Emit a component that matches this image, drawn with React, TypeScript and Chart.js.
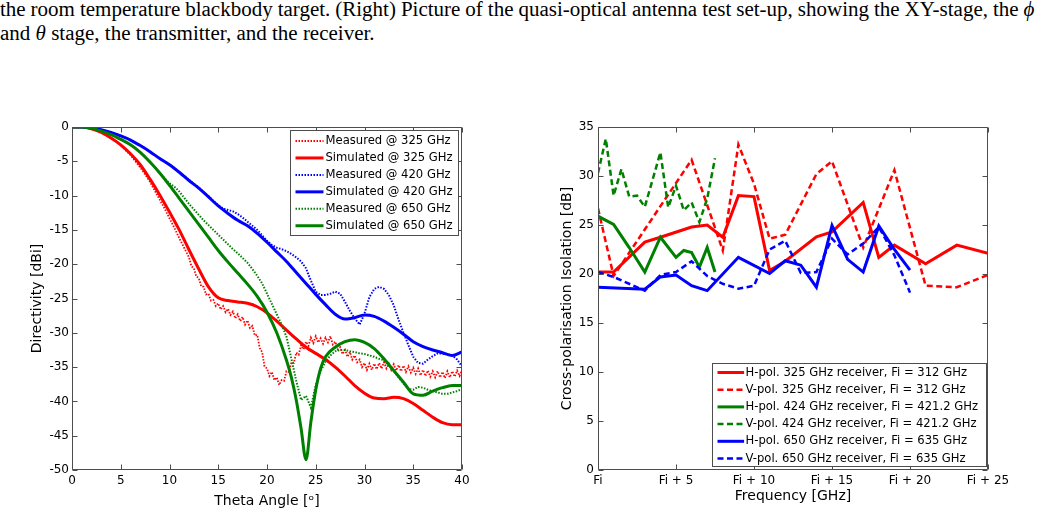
import React, { useEffect, useLayoutEffect, useRef, useState } from 'react';
import { Chart, registerables } from 'chart.js';

Chart.register(...registerables);

const FONT = '"DejaVu Sans", "Liberation Sans", Arial, sans-serif';
const AXIS = '#4d4d4d';
const RED = '#ff0000';
const GREEN = '#008000';
const BLUE = '#0000ff';

// ---- Left panel: directivity versus theta angle ----
const thetaSim = [
  0, 1, 2, 3, 4, 5, 6, 7, 8, 9, 10, 11, 12, 13, 14, 15, 16, 17, 18, 19, 20,
  21, 22, 23, 24, 25, 26, 27, 28, 29, 30, 31, 32, 33, 34, 35, 36, 37, 38, 39, 40,
];
const sim325 = [
  0, 0, -0.25, -0.8, -1.6, -2.6, -3.9, -5.5, -7.6, -9.9, -12.4, -15.0, -17.9, -20.7, -23.3,
  -24.9, -25.3, -25.5, -25.7, -26.2, -27.1, -28.3, -29.6, -30.9, -32.1, -33.0, -33.9, -35.0,
  -36.3, -37.7, -38.8, -39.5, -39.6, -39.4, -39.6, -40.3, -41.3, -42.3, -43.1, -43.4, -43.4,
];
const sim420 = [
  0, 0, -0.15, -0.4, -0.8, -1.3, -1.9, -2.7, -3.6, -4.6, -5.5, -6.6, -7.8, -8.9, -10.2,
  -11.5, -12.6, -13.6, -14.4, -15.5, -16.8, -18.2, -19.6, -21.2, -22.8, -24.4, -25.9, -27.3,
  -28.0, -27.8, -27.4, -27.6, -28.3, -29.2, -30.2, -31.3, -32.0, -32.5, -32.9, -33.3, -32.8,
];
const thetaSim650 = [
  0, 1, 2, 3, 4, 5, 6, 7, 8, 9, 10, 11, 12, 13, 14, 15, 16, 17, 18, 19, 20, 21,
  22, 22.5, 23, 23.5, 24, 24.5, 25, 25.5, 26,
  27, 28, 29, 30, 31, 32, 33, 34, 35, 36, 37, 38, 39, 40,
];
const sim650 = [
  0, 0, -0.2, -0.6, -1.1, -1.8, -2.6, -3.7, -5.1, -6.7, -8.5, -10.4, -12.3, -14.2, -16.1,
  -18.0, -19.7, -21.3, -22.9, -24.7, -27.0, -30.0,
  -34.0, -36.5, -39.8, -44.0, -48.5, -43.0, -38.3, -35.2, -33.5,
  -32.1, -31.3, -31.0, -31.4, -32.3, -33.8, -35.5, -37.2, -38.9, -39.1, -38.5, -38.0, -37.7, -37.7,
];

// Measured 325 GHz cut: coarse steps on the main lobe, fine steps where the trace is noisy.
const thetaMeas325 = [
  0, 0.5, 1, 1.5, 2, 2.5, 3, 3.5, 4, 4.5, 5, 5.5, 6, 6.5, 7, 7.5, 8, 8.5, 9, 9.5, 10, 10.5, 11, 11.5,
  12, 12.25, 12.5, 12.75, 13, 13.25, 13.5, 13.75, 14, 14.25, 14.5, 14.75, 15, 15.25, 15.5, 15.75,
  16, 16.25, 16.5, 16.75, 17, 17.25, 17.5, 17.75, 18, 18.25, 18.5, 18.75, 19, 19.25, 19.5, 19.75,
  20, 20.25, 20.5, 20.75, 21, 21.25, 21.5, 21.75, 22, 22.25, 22.5, 22.75, 23, 23.25, 23.5, 23.75,
  24, 24.25, 24.5, 24.75, 25, 25.25, 25.5, 25.75, 26, 26.25, 26.5, 26.75, 27, 27.25, 27.5, 27.75,
  28, 28.25, 28.5, 28.75, 29, 29.25, 29.5, 29.75, 30, 30.25, 30.5, 30.75, 31, 31.25, 31.5, 31.75,
  32, 32.25, 32.5, 32.75, 33, 33.25, 33.5, 33.75, 34, 34.25, 34.5, 34.75, 35, 35.25, 35.5, 35.75,
  36, 36.25, 36.5, 36.75, 37, 37.25, 37.5, 37.75, 38, 38.25, 38.5, 38.75, 39, 39.25, 39.5, 39.75,
  40,
];
const meas325 = [
  0, 0, -0.05, -0.1, -0.3, -0.5, -0.8, -1.2, -1.6, -2.1, -2.7, -3.4, -4.1, -5.0, -5.9, -6.9,
  -8.0, -9.3, -10.6, -11.9, -13.3, -14.7, -16.2, -17.6,
  -19.0, -20.3, -20.6, -21.8, -22.0, -23.2, -23.3, -24.4, -24.3, -25.3, -25.2, -26.1, -25.7, -26.6, -26.1, -27.0,
  -26.5, -27.4, -26.9, -27.9, -27.3, -28.3, -27.7, -28.8, -28.2, -29.3, -29.0, -30.4, -30.3, -32.2, -32.8, -34.9,
  -35.2, -36.3, -35.7, -36.9, -36.5, -37.6, -36.9, -37.0, -35.6, -35.7, -34.3, -34.4, -32.9, -33.2, -31.8, -32.4,
  -31.3, -31.9, -30.7, -31.5, -30.5, -31.4, -30.8, -31.6, -30.7, -31.4, -30.5, -31.7, -31.3, -32.4, -32.1, -33.1,
  -32.5, -33.5, -32.8, -33.9, -33.3, -34.3, -33.9, -35.0, -34.4, -35.4, -34.5, -35.4, -34.5, -35.3, -34.4, -35.2,
  -34.3, -35.2, -34.5, -35.4, -34.6, -35.5, -34.7, -35.6, -34.8, -35.7, -34.9, -35.8, -35.1, -36.0, -35.2, -36.2,
  -35.4, -36.3, -35.5, -36.4, -35.6, -36.5, -35.6, -36.5, -35.7, -36.6, -35.6, -36.5, -35.6, -36.4, -35.5, -36.3,
  -35.4,
];

const thetaMeas = [
  0, 0.5, 1, 1.5, 2, 2.5, 3, 3.5, 4, 4.5, 5, 5.5, 6, 6.5, 7, 7.5, 8, 8.5, 9, 9.5,
  10, 10.5, 11, 11.5, 12, 12.5, 13, 13.5, 14, 14.5, 15, 15.5, 16, 16.5, 17, 17.5, 18, 18.5, 19, 19.5,
  20, 20.5, 21, 21.5, 22, 22.5, 23, 23.5, 24, 24.5, 25, 25.5, 26, 26.5, 27, 27.5, 28, 28.5, 29, 29.5,
  30, 30.5, 31, 31.5, 32, 32.5, 33, 33.5, 34, 34.5, 35, 35.5, 36, 36.5, 37, 37.5, 38, 38.5, 39, 39.5,
  40,
];
const meas420 = [
  0, 0, 0, -0.05, -0.15, -0.25, -0.4, -0.6, -0.8, -1.05,
  -1.3, -1.6, -1.9, -2.3, -2.7, -3.1, -3.6, -4.1, -4.6, -5.0,
  -5.5, -6.0, -6.6, -7.1, -7.7, -8.3, -8.8, -9.5, -10.1, -10.8,
  -11.4, -11.9, -12.1, -12.3, -12.7, -13.2, -13.8, -14.4, -15.0, -15.8,
  -16.6, -17.2, -17.6, -17.8, -18.1, -18.5, -19.0, -19.6, -20.6, -22.4,
  -24.0, -24.5, -24.5, -24.3, -24.0, -24.3, -25.5, -26.8, -27.9, -28.8,
  -27.2, -24.8, -23.6, -23.3, -23.6, -24.5, -26.0, -28.1, -30.0, -31.8,
  -33.5, -34.4, -34.5, -33.9, -33.4, -33.0, -33.0, -33.1, -33.3, -33.9,
  -34.9,
];
const meas650 = [
  0, 0, 0, -0.1, -0.2, -0.4, -0.6, -0.8, -1.1, -1.4,
  -1.8, -2.2, -2.6, -3.1, -3.7, -4.4, -5.1, -5.9, -6.7, -7.5,
  -8.2, -8.7, -9.4, -10.3, -11.2, -12.0, -12.8, -13.6, -14.3, -15.0,
  -15.7, -16.4, -17.1, -17.8, -18.4, -19.1, -19.8, -20.7, -21.7, -22.8,
  -24.3, -25.8, -27.3, -28.8, -30.6, -33.8, -37.0, -39.8, -39.2, -40.9,
  -37.6, -35.6, -34.2, -33.3, -32.7, -32.5, -32.5, -32.7, -32.8, -33.0,
  -33.1, -33.3, -33.5, -33.8, -34.0, -34.8, -35.6, -36.5, -37.4, -38.2,
  -38.3, -37.9, -38.0, -38.3, -38.5, -38.7, -38.9, -38.9, -38.7, -38.5,
  -38.2,
];

// ---- Right panel: cross-polarisation isolation versus frequency offset ----
const freqTickLabels = ['Fi', 'Fi + 5', 'Fi + 10', 'Fi + 15', 'Fi + 20', 'Fi + 25'];
const freqH325 = [0, 1, 3, 4, 6, 7, 8, 9, 10, 11, 12, 14, 15, 17, 18, 19, 21, 23, 25];
const hPol325 = [20.2, 20.2, 23.25, 23.75, 24.8, 25.0, 23.75, 28.0, 27.9, 20.35, 21.3, 23.8, 24.3, 27.3, 21.7, 22.95, 21.05, 22.95, 22.1];
const freqV325 = [0, 1, 6, 8, 9, 10, 11, 12, 14, 15, 17, 19, 21, 23, 25];
const vPol325 = [26.7, 19.8, 31.65, 22.4, 33.2, 29.2, 23.6, 24.0, 30.2, 31.5, 22.7, 30.6, 18.8, 18.65, 19.9];
const freqH424 = [0, 1, 2, 3, 4, 5, 5.5, 6, 6.5, 7, 7.5];
const hPol424 = [25.9, 25.05, 22.7, 20.2, 23.75, 21.7, 22.4, 22.2, 20.7, 22.7, 20.2];
const freqV424 = [0, 0.5, 1, 1.5, 2, 2.5, 3, 4, 4.5, 5, 5.5, 6, 6.5, 7, 7.5];
const vPol424 = [30.3, 33.8, 28.0, 30.7, 27.9, 28.0, 26.85, 32.4, 26.8, 29.0, 26.5, 27.3, 25.3, 27.7, 31.8];
const freqH650 = [0, 3, 4, 5, 6, 7, 9, 11, 12, 13, 14, 15, 16, 17, 18, 19, 20];
const hPol650 = [18.65, 18.45, 19.7, 19.9, 18.8, 18.3, 21.7, 20.05, 21.35, 20.9, 18.65, 24.95, 21.5, 20.2, 24.9, 22.5, 20.4];
const freqV650 = [0, 1, 3, 4, 5, 6, 7, 8, 9, 10, 11, 12, 13, 14, 15, 16, 17, 18, 19, 20];
const vPol650 = [20.2, 19.7, 18.3, 19.9, 20.2, 21.3, 19.8, 19.0, 18.5, 18.8, 22.5, 23.4, 20.1, 20.2, 23.6, 22.0, 23.1, 24.8, 21.9, 18.1];

const pairs = (xs: number[], ys: number[]) => xs.map((x, i) => ({ x, y: ys[i] }));

// Box, inward tick marks and an in-axes legend, drawn over the data.
const framePlugin = {
  id: 'frame',
  afterDraw(chart: any, _args: any, opts: any) {
    const { ctx, chartArea: a, scales } = chart;
    const L = Math.round(a.left) + 0.5;
    const R = Math.round(a.right) - 0.5;
    const T = Math.round(a.top) + 0.5;
    const B = Math.round(a.bottom) - 0.5;
    const tl = opts.tickLength;
    ctx.save();
    ctx.setLineDash([]);
    ctx.strokeStyle = AXIS;
    ctx.lineWidth = 1;
    ctx.beginPath();
    ctx.rect(L, T, R - L, B - T);
    for (const t of scales.x.ticks) {
      const p = Math.round(scales.x.getPixelForValue(t.value)) + 0.5;
      ctx.moveTo(p, B); ctx.lineTo(p, B - tl);
      ctx.moveTo(p, T); ctx.lineTo(p, T + tl);
    }
    for (const t of scales.y.ticks) {
      const p = Math.round(scales.y.getPixelForValue(t.value)) + 0.5;
      ctx.moveTo(L, p); ctx.lineTo(L + tl, p);
      ctx.moveTo(R, p); ctx.lineTo(R - tl, p);
    }
    ctx.stroke();

    const lg = opts.legend;
    const bx = Math.round(a.right - lg.right - lg.width) + 0.5;
    const by = lg.anchor === 'top'
      ? Math.round(a.top + lg.offset) + 0.5
      : Math.round(a.bottom - lg.offset - lg.height) + 0.5;
    ctx.fillStyle = '#ffffff';
    ctx.fillRect(bx, by, lg.width, lg.height);
    ctx.strokeStyle = AXIS;
    ctx.strokeRect(bx, by, lg.width, lg.height);
    ctx.font = `${lg.fontSize}px ${FONT}`;
    ctx.textBaseline = 'middle';
    ctx.textAlign = 'left';
    chart.data.datasets.forEach((ds: any, i: number) => {
      const y = by + lg.firstRow + i * lg.rowHeight;
      ctx.save();
      ctx.strokeStyle = ds.borderColor;
      ctx.lineWidth = ds.borderWidth;
      ctx.setLineDash(ds.borderDash || []);
      ctx.beginPath();
      ctx.moveTo(bx + lg.sampleStart, y);
      ctx.lineTo(bx + lg.sampleEnd, y);
      ctx.stroke();
      ctx.restore();
      ctx.fillStyle = '#000000';
      ctx.fillText(ds.label, bx + lg.textStart, y);
    });
    ctx.restore();
  },
};

function baseOptions(cfg: any) {
  return {
    responsive: false,
    animation: false,
    events: [],
    layout: { padding: cfg.padding },
    elements: { point: { radius: 0 } },
    plugins: {
      legend: { display: false },
      tooltip: { enabled: false },
      frame: { tickLength: 5, legend: cfg.legend },
    },
    scales: {
      x: {
        type: 'linear',
        min: cfg.xMin,
        max: cfg.xMax,
        grid: { display: false, drawTicks: false },
        border: { display: false },
        ticks: {
          stepSize: 5,
          padding: 4,
          color: '#000000',
          maxRotation: 0,
          autoSkip: false,
          font: { family: FONT, size: 12 },
          callback: cfg.xLabel,
        },
        title: {
          display: true,
          text: cfg.xTitle,
          color: '#000000',
          font: { family: FONT, size: 14 },
          padding: { top: 0, bottom: cfg.xTitlePad },
        },
        afterFit: (s: any) => { s.height = cfg.xHeight; },
      },
      y: {
        type: 'linear',
        min: cfg.yMin,
        max: cfg.yMax,
        grid: { display: false, drawTicks: false },
        border: { display: false },
        ticks: {
          stepSize: 5,
          padding: cfg.yTickPad,
          color: '#000000',
          autoSkip: false,
          font: { family: FONT, size: 12 },
          callback: (v: any) => String(v),
        },
        title: {
          display: true,
          text: cfg.yTitle,
          color: '#000000',
          font: { family: FONT, size: 14 },
          padding: { top: cfg.yTitlePad, bottom: 0 },
        },
        afterFit: (s: any) => { s.width = cfg.yWidth; },
      },
    },
  };
}

function Caption() {
  const l1 = useRef<HTMLSpanElement>(null);
  const l2 = useRef<HTMLSpanElement>(null);
  const [fit, setFit] = useState({ k: 1, ws: 0 });
  useLayoutEffect(() => {
    if (!l1.current || !l2.current) return;
    const w2 = l2.current.offsetWidth;
    const w1 = l1.current.offsetWidth;
    const k = 375 / w2;
    const spaces = (l1.current.textContent || '').split(' ').length - 1;
    setFit({ k, ws: (1034 / k - w1) / spaces });
  }, []);
  const common: React.CSSProperties = {
    position: 'absolute',
    left: 0,
    whiteSpace: 'nowrap',
    fontFamily: '"Liberation Serif", "Times New Roman", serif',
    fontSize: '20.5px',
    lineHeight: '23.6px',
    color: '#000',
    transformOrigin: '0 0',
    transform: `scaleX(${fit.k})`,
  };
  return (
    <>
      <span ref={l1} style={{ ...common, top: -2, wordSpacing: `${fit.ws}px` }}>
        the room temperature blackbody target. (Right) Picture of the quasi-optical antenna test set-up, showing the XY-stage, the <i>ϕ</i>
      </span>
      <span ref={l2} style={{ ...common, top: 21.6 }}>
        and <i>θ</i> stage, the transmitter, and the receiver.
      </span>
    </>
  );
}

export default function App() {
  const leftRef = useRef<HTMLCanvasElement>(null);
  const rightRef = useRef<HTMLCanvasElement>(null);

  useEffect(() => {
    const dotted = [1.5, 1.5];
    const dashed = [6, 3.5];
    const left = new Chart(leftRef.current as HTMLCanvasElement, {
      type: 'line',
      data: {
        datasets: [
          { label: 'Measured @ 325 GHz', data: pairs(thetaMeas325, meas325), borderColor: RED, borderWidth: 1.8, borderDash: dotted, tension: 0, order: 5 },
          { label: 'Simulated @ 325 GHz', data: pairs(thetaSim, sim325), borderColor: RED, borderWidth: 3, cubicInterpolationMode: 'monotone', order: 4 },
          { label: 'Measured @ 420 GHz', data: pairs(thetaMeas, meas420), borderColor: BLUE, borderWidth: 2, borderDash: dotted, tension: 0, order: 3 },
          { label: 'Simulated @ 420 GHz', data: pairs(thetaSim, sim420), borderColor: BLUE, borderWidth: 3, cubicInterpolationMode: 'monotone', order: 2 },
          { label: 'Measured @ 650 GHz', data: pairs(thetaMeas, meas650), borderColor: GREEN, borderWidth: 2, borderDash: dotted, tension: 0, order: 1 },
          { label: 'Simulated @ 650 GHz', data: pairs(thetaSim650, sim650), borderColor: GREEN, borderWidth: 3, cubicInterpolationMode: 'monotone', order: 0 },
        ],
      },
      options: baseOptions({
        padding: { top: 27, right: 58, bottom: 0, left: 0 },
        xMin: 0, xMax: 40, yMin: -50, yMax: 0,
        xLabel: (v: any) => String(v),
        xTitle: 'Theta Angle [ᵒ]',
        yTitle: 'Directivity [dBi]',
        xHeight: 47, xTitlePad: 7.3,
        yWidth: 72, yTitlePad: 28.6, yTickPad: 3,
        legend: {
          anchor: 'top', right: 4, offset: 3, width: 168, height: 105,
          firstRow: 10.5, rowHeight: 16.95, sampleStart: 5, sampleEnd: 33, textStart: 35, fontSize: 11.6,
        },
      }) as any,
      plugins: [framePlugin],
    });

    const right = new Chart(rightRef.current as HTMLCanvasElement, {
      type: 'line',
      data: {
        datasets: [
          { label: 'H-pol. 325 GHz receiver, Fi = 312 GHz', data: pairs(freqH325, hPol325), borderColor: RED, borderWidth: 3, tension: 0, order: 5 },
          { label: 'V-pol. 325 GHz receiver, Fi = 312 GHz', data: pairs(freqV325, vPol325), borderColor: RED, borderWidth: 2.5, borderDash: dashed, tension: 0, order: 4 },
          { label: 'H-pol. 424 GHz receiver, Fi = 421.2 GHz', data: pairs(freqH424, hPol424), borderColor: GREEN, borderWidth: 3, tension: 0, order: 3 },
          { label: 'V-pol. 424 GHz receiver, Fi = 421.2 GHz', data: pairs(freqV424, vPol424), borderColor: GREEN, borderWidth: 2.5, borderDash: dashed, tension: 0, order: 2 },
          { label: 'H-pol. 650 GHz receiver, Fi = 635 GHz', data: pairs(freqH650, hPol650), borderColor: BLUE, borderWidth: 3, tension: 0, order: 1 },
          { label: 'V-pol. 650 GHz receiver, Fi = 635 GHz', data: pairs(freqV650, vPol650), borderColor: BLUE, borderWidth: 2.5, borderDash: dashed, tension: 0, order: 0 },
        ],
      },
      options: baseOptions({
        padding: { top: 27, right: 53, bottom: 0, left: 0 },
        xMin: 0, xMax: 25, yMin: 0, yMax: 35,
        xLabel: (v: any) => freqTickLabels[Math.round(Number(v) / 5)],
        xTitle: 'Frequency [GHz]',
        yTitle: 'Cross-polarisation Isolation [dB]',
        xHeight: 47, xTitlePad: 11.9,
        yWidth: 78, yTitlePad: 39.1, yTickPad: 4,
        legend: {
          anchor: 'bottom', right: 2, offset: 4, width: 274, height: 103,
          firstRow: 9, rowHeight: 17.2, sampleStart: 5, sampleEnd: 31.6, textStart: 33, fontSize: 11.6,
        },
      }) as any,
      plugins: [framePlugin],
    });

    return () => {
      left.destroy();
      right.destroy();
    };
  }, []);

  return (
    <div style={{ position: 'fixed', left: 0, top: 0, width: 1041, height: 517, background: '#ffffff', overflow: 'hidden' }}>
      <Caption />
      <canvas ref={leftRef} width={520} height={417} style={{ position: 'absolute', left: 0, top: 100, display: 'block' }} />
      <canvas ref={rightRef} width={521} height={417} style={{ position: 'absolute', left: 520, top: 100, display: 'block' }} />
    </div>
  );
}
